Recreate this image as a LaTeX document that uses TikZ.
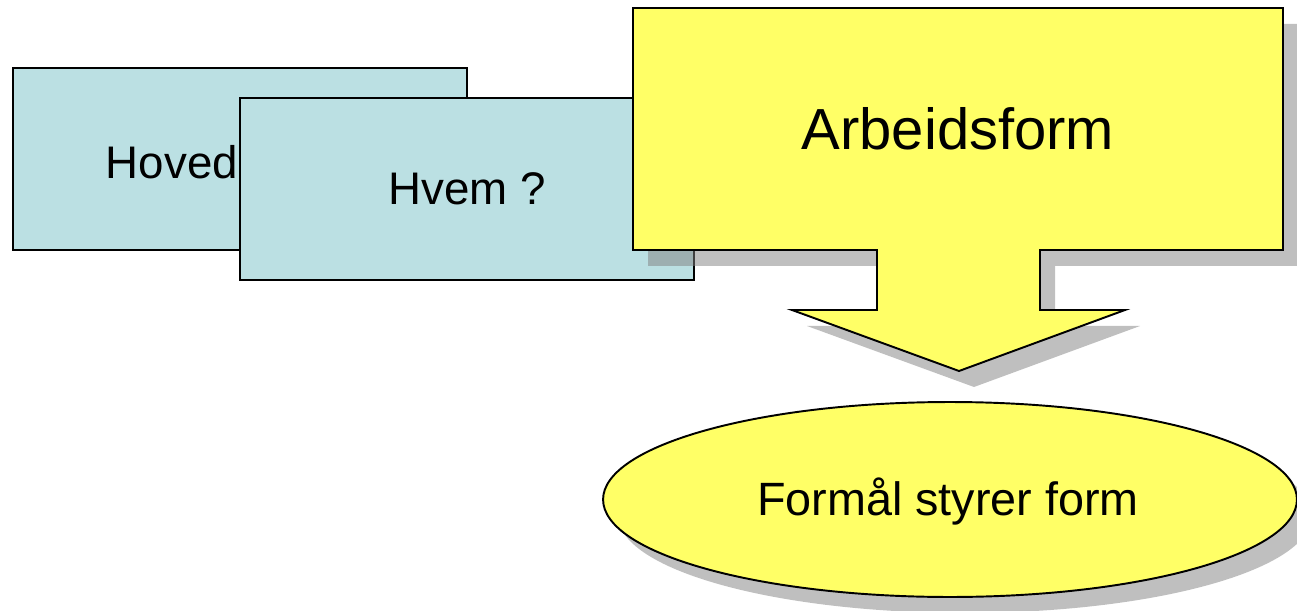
\documentclass[tikz,border=0pt]{standalone}
\usepackage{fontspec}
\setmainfont{Liberation Sans}
\usetikzlibrary{shapes.geometric,shadows,positioning}
\definecolor{boxblue}{HTML}{BBE0E3}
\definecolor{boxyellow}{HTML}{FFFF66}

\begin{document}
\begin{tikzpicture}[x=0.02cm,y=-0.02cm,line width=1.1pt,
	bluebox/.style={draw,fill=boxblue,minimum width=9.08cm,minimum height=3.64cm,inner sep=0pt},
	shade/.style={drop shadow={shadow xshift=0.3cm,shadow yshift=-0.32cm,fill=black!50,opacity=.5}},
	bigtext/.style={font=\fontsize{26}{30}\selectfont}]
	\useasboundingbox (0,0) rectangle (1297,611);
	\node (hovedbox) at (240,159) [bluebox] {};
	\node (hoved) at (105,178) [bigtext,anchor=base west,inner sep=0pt] {Hoved};
	\node (hvem) at (467,189) [bluebox,bigtext] {Hvem ?};
	\draw[fill=boxyellow,shade] (633,8) -- (1283,8) -- (1283,250) -- (1040,250) -- (1040,310)
		-- (1125,310) -- (959,371) -- (792,310) -- (877,310) -- (877,250) -- (633,250) -- cycle;
	\node (arbeid) at (958,129) [font=\fontsize{33}{37}\selectfont] {Arbeidsform};
	\node (formaal) at (950,499.5) [ellipse,draw,fill=boxyellow,shade,
		minimum width=13.88cm,minimum height=3.9cm,inner sep=0pt] {};
	\node (formtekst) at (948,502) [font=\fontsize{26.6}{30}\selectfont] {Formål styrer form};
\end{tikzpicture}
\end{document}
